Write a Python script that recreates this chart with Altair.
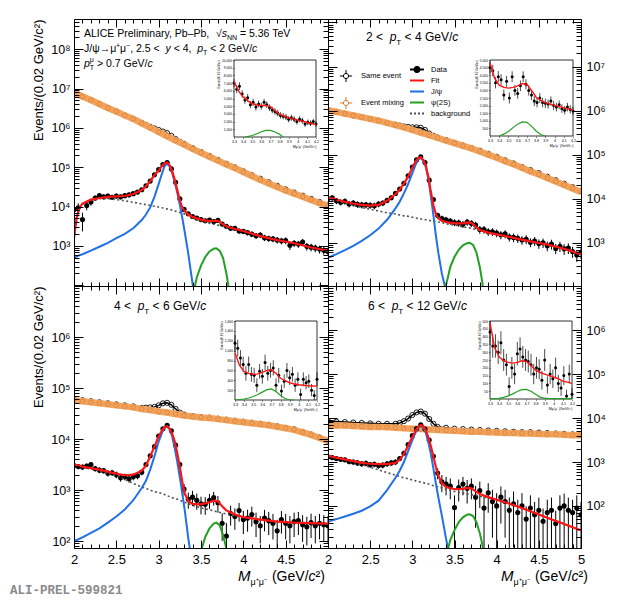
import altair as alt
import pandas as pd

FONT = "Liberation Sans"
MONO = "Liberation Mono"
RED = "#ff1414"
BLUE = "#2170e8"
GREEN = "#22a022"
ORANGE = "#f1a35c"
ORANGE_D = "#d9772a"
DOTC = "#505050"

# ---------------- x grids (bin centres / curve sampling points) ----------------
MIX_X = [round(2.0 + 0.1 * i, 2) for i in range(31)]
SE_X = [2.0, 2.1, 2.2, 2.3, 2.4, 2.5, 2.6, 2.7, 2.8,
        2.85, 2.9, 2.95, 3.0, 3.05, 3.1, 3.15, 3.2, 3.25, 3.3,
        3.4, 3.5, 3.6, 3.7, 3.8, 3.9, 4.0, 4.1, 4.2, 4.3, 4.4, 4.5, 4.6, 4.7, 4.8, 4.9, 5.0]
DATA_X = [round(2.0 + 0.05 * i, 2) for i in range(61)]
FX = [2.0, 2.03, 2.06, 2.1, 2.2, 2.3, 2.4, 2.5, 2.6, 2.7,
      2.8, 2.85, 2.9, 2.95, 3.0, 3.04, 3.07, 3.1, 3.13, 3.16,
      3.19, 3.22, 3.25, 3.28, 3.31, 3.35, 3.4, 3.5, 3.6, 3.65,
      3.7, 3.75, 3.8, 3.9, 4.0, 4.2, 4.4, 4.6, 4.8, 5.0]
PX = [3.38, 3.42, 3.45, 3.5, 3.55, 3.6, 3.65, 3.68, 3.72, 3.76, 3.8, 3.83, 3.87]
IN_X = [round(3.30 + 0.03 * i, 2) for i in range(31)]
IC_X = [round(3.30 + 0.05 * i, 2) for i in range(19)]

# ---------------- main panels: values read as log10(counts) ----------------
TL_MIX = [6.90, 6.80, 6.71, 6.61, 6.51, 6.42, 6.32, 6.23, 6.12, 6.01,
          5.90, 5.79, 5.68, 5.58, 5.47, 5.37, 5.27, 5.17, 5.07, 4.98,
          4.88, 4.78, 4.68, 4.59, 4.50, 4.41, 4.33, 4.25, 4.17, 4.09, 4.02]
TR_MIX = [6.01, 5.97, 5.93, 5.89, 5.85, 5.81, 5.77, 5.72, 5.67, 5.62,
          5.56, 5.50, 5.44, 5.38, 5.32, 5.26, 5.20, 5.14, 5.07, 5.00,
          4.93, 4.85, 4.78, 4.70, 4.62, 4.55, 4.47, 4.39, 4.31, 4.23, 4.15]
BL_MIX = [4.76, 4.74, 4.72, 4.70, 4.68, 4.66, 4.64, 4.62, 4.59, 4.57,
          4.54, 4.52, 4.49, 4.46, 4.44, 4.42, 4.41, 4.39, 4.37, 4.35,
          4.33, 4.31, 4.29, 4.27, 4.24, 4.21, 4.18, 4.13, 4.08, 4.02, 3.96]
BR_MIX = [3.84, 3.83, 3.83, 3.82, 3.81, 3.80, 3.80, 3.79, 3.78, 3.77,
          3.76, 3.75, 3.74, 3.73, 3.72, 3.71, 3.70, 3.69, 3.69, 3.68,
          3.67, 3.66, 3.66, 3.65, 3.65, 3.64, 3.63, 3.63, 3.62, 3.61, 3.61]

TL_SE = [6.90, 6.80, 6.71, 6.61, 6.51, 6.42, 6.32, 6.23, 6.13,
         6.08, 6.03, 5.99, 5.95, 5.91, 5.87, 5.80, 5.72, 5.65, 5.60,
         5.49, 5.39, 5.29, 5.19, 5.09, 5.00, 4.90, 4.80, 4.71, 4.62, 4.53, 4.44, 4.36, 4.28, 4.20, 4.12, 4.05]
TR_SE = [6.01, 5.97, 5.93, 5.89, 5.85, 5.81, 5.77, 5.72, 5.68,
         5.66, 5.64, 5.63, 5.62, 5.62, 5.61, 5.56, 5.48, 5.43, 5.39,
         5.33, 5.27, 5.21, 5.15, 5.09, 5.02, 4.95, 4.87, 4.80, 4.72, 4.65, 4.58, 4.50, 4.42, 4.34, 4.26, 4.18]
BL_SE = [4.78, 4.76, 4.74, 4.72, 4.70, 4.68, 4.66, 4.64, 4.61,
         4.615, 4.62, 4.63, 4.66, 4.70, 4.71, 4.67, 4.59, 4.52, 4.48,
         4.45, 4.43, 4.42, 4.40, 4.38, 4.36, 4.34, 4.32, 4.30, 4.28, 4.25, 4.22, 4.19, 4.14, 4.09, 4.03, 3.97]
BR_SE = [3.93, 3.92, 3.91, 3.90, 3.89, 3.88, 3.87, 3.87, 3.87,
         3.89, 3.93, 3.99, 4.07, 4.13, 4.15, 4.10, 3.98, 3.87, 3.80,
         3.78, 3.76, 3.75, 3.74, 3.73, 3.72, 3.71, 3.70, 3.69, 3.68, 3.68, 3.67, 3.66, 3.65, 3.64, 3.63, 3.62]

TL_DATA = [3.93, 3.97, 3.67, 4.03, 4.12, 4.22, 4.28, 4.25, 4.27, 4.24,
           4.27, 4.25, 4.28, 4.30, 4.33, 4.37, 4.43, 4.53, 4.65, 4.81,
           4.94, 5.07, 5.12, 4.96, 4.62, 4.20, 3.93, 3.82, 3.75, 3.71,
           3.67, 3.64, 3.66, 3.62, 3.65, 3.56, 3.50, 3.45, 3.45, 3.38,
           3.37, 3.34, 3.30, 3.26, 3.28, 3.21, 3.19, 3.18, 3.15, 3.13,
           3.14, 3.02, 3.07, 3.05, 3.10, 2.99, 2.97, 2.95, 2.92, 2.89,
           2.86]
TR_DATA = [4.00, 4.02, 3.95, 3.92, 3.94, 3.88, 3.90, 3.87, 3.86, 3.86,
           3.85, 3.84, 3.88, 3.90, 3.96, 4.02, 4.12, 4.22, 4.35, 4.52,
           4.72, 4.88, 4.95, 4.82, 4.42, 3.98, 3.62, 3.55, 3.52, 3.49,
           3.46, 3.45, 3.42, 3.47, 3.44, 3.40, 3.30, 3.30, 3.25, 3.25,
           3.22, 3.18, 3.20, 3.13, 3.12, 3.10, 3.06, 3.08, 3.01, 3.04,
           2.98, 3.00, 2.93, 2.97, 2.87, 2.92, 2.86, 2.88, 2.80, 2.72,
           2.78]
BL_DATA = [3.48, 3.46, 3.45, 3.47, 3.50, 3.42, 3.39, 3.38, 3.33, 3.34,
           3.30, 3.24, 3.26, 3.22, 3.26, 3.28, 3.35, 3.50, 3.67, 3.85,
           4.06, 4.20, 4.27, 4.16, 3.88, 3.50, 3.02, 2.82, 2.86, 2.80,
           2.73, 2.72, 2.80, 2.85, 2.75, 2.35, 2.10, 2.54, 2.48, 2.60,
           2.42, 2.45, 2.52, 2.38, 2.30, 2.45, 2.40, 2.35, 2.20, 2.42,
           2.35, 2.30, 2.38, 2.40, 2.32, 2.28, 2.36, 2.30, 2.35, 2.32,
           2.30]
BR_DATA = [3.12, 3.10, 3.08, 3.06, 3.05, 3.01, 3.00, 2.98, 2.96, 2.97,
           2.94, 2.95, 2.92, 2.93, 2.96, 2.98, 3.00, 3.08, 3.20, 3.40,
           3.60, 3.76, 3.85, 3.75, 3.50, 3.13, 2.75, 2.55, 2.50, 2.45,
           1.96, 2.42, 2.50, 2.40, 2.45, 2.20, 2.35, 1.95, 2.30, 2.10,
           2.00, 2.20, 2.10, 1.90, 2.05, 1.85, 2.00, 1.70, 1.95, 1.80,
           1.90, 1.65, 1.85, 1.90, 1.60, 1.95, 2.00, 1.90, 1.85, 1.95,
           1.80]

# relative uncertainties of the data points
TL_ERR = [0.35, 0.30, 0.50, 0.25, 0.20, 0.16, 0.15, 0.15, 0.15, 0.15,
          0.15, 0.15, 0.14, 0.14, 0.13, 0.12, 0.10, 0.08, 0.07, 0.05,
          0.04, 0.03, 0.03, 0.04, 0.05, 0.08, 0.10, 0.12, 0.12, 0.13,
          0.13, 0.13, 0.13, 0.13, 0.13, 0.14, 0.14, 0.15, 0.15, 0.15,
          0.15, 0.16, 0.16, 0.17, 0.17, 0.18, 0.18, 0.18, 0.19, 0.19,
          0.20, 0.25, 0.20, 0.20, 0.20, 0.22, 0.22, 0.22, 0.23, 0.23,
          0.24]
TR_ERR = [0.15, 0.15, 0.16, 0.16, 0.16, 0.17, 0.17, 0.17, 0.17, 0.17,
          0.17, 0.17, 0.16, 0.15, 0.14, 0.12, 0.10, 0.08, 0.06, 0.05,
          0.04, 0.03, 0.03, 0.04, 0.05, 0.08, 0.14, 0.16, 0.17, 0.17,
          0.18, 0.18, 0.18, 0.18, 0.18, 0.19, 0.20, 0.20, 0.20, 0.20,
          0.20, 0.21, 0.21, 0.21, 0.22, 0.22, 0.22, 0.23, 0.23, 0.23,
          0.24, 0.24, 0.25, 0.25, 0.26, 0.26, 0.27, 0.27, 0.28, 0.30,
          0.29]
BL_ERR = [0.12, 0.12, 0.12, 0.12, 0.12, 0.13, 0.13, 0.13, 0.14, 0.14,
          0.15, 0.16, 0.15, 0.16, 0.15, 0.15, 0.13, 0.11, 0.08, 0.06,
          0.04, 0.04, 0.03, 0.04, 0.06, 0.10, 0.25, 0.35, 0.33, 0.35,
          0.38, 0.38, 0.33, 0.30, 0.36, 0.55, 0.80, 0.42, 0.45, 0.40,
          0.48, 0.46, 0.42, 0.50, 0.55, 0.45, 0.48, 0.52, 0.65, 0.47,
          0.52, 0.55, 0.50, 0.48, 0.54, 0.57, 0.50, 0.55, 0.52, 0.54,
          0.55]
BR_ERR = [0.12, 0.12, 0.13, 0.13, 0.13, 0.14, 0.14, 0.15, 0.15, 0.15,
          0.15, 0.15, 0.16, 0.16, 0.15, 0.15, 0.14, 0.12, 0.10, 0.07,
          0.05, 0.04, 0.04, 0.04, 0.06, 0.12, 0.28, 0.42, 0.45, 0.50,
          0.90, 0.52, 0.45, 0.55, 0.50, 0.80, 0.60, 0.95, 0.65, 0.85,
          0.95, 0.75, 0.85, 0.95, 0.90, 0.95, 0.95, 0.95, 0.95, 0.95,
          0.95, 0.95, 0.95, 0.95, 0.95, 0.95, 0.90, 0.95, 0.95, 0.95,
          0.95]

TL_FIT = [3.20, 3.70, 3.95, 4.08, 4.18, 4.22, 4.25, 4.26, 4.27, 4.32,
          4.42, 4.52, 4.65, 4.80, 4.92, 5.04, 5.10, 5.12, 5.05, 4.90,
          4.68, 4.42, 4.15, 3.97, 3.88, 3.80, 3.74, 3.67, 3.63, 3.64,
          3.64, 3.57, 3.50, 3.43, 3.38, 3.25, 3.15, 3.07, 2.96, 2.88]
TR_FIT = [4.02, 4.01, 4.00, 3.98, 3.93, 3.89, 3.86, 3.84, 3.86, 3.95,
          4.10, 4.20, 4.34, 4.50, 4.70, 4.85, 4.92, 4.94, 4.88, 4.75,
          4.50, 4.15, 3.85, 3.64, 3.55, 3.50, 3.47, 3.44, 3.44, 3.46,
          3.45, 3.36, 3.29, 3.23, 3.19, 3.11, 3.03, 2.96, 2.86, 2.74]
BL_FIT = [3.50, 3.49, 3.48, 3.46, 3.43, 3.40, 3.36, 3.32, 3.29, 3.30,
          3.38, 3.48, 3.66, 3.85, 4.05, 4.17, 4.23, 4.25, 4.20, 4.10,
          3.95, 3.72, 3.45, 3.15, 2.93, 2.78, 2.73, 2.72, 2.76, 2.79,
          2.78, 2.68, 2.60, 2.52, 2.47, 2.42, 2.38, 2.36, 2.35, 2.34]
BR_FIT = [3.14, 3.13, 3.12, 3.10, 3.06, 3.02, 2.98, 2.96, 2.95, 2.95,
          2.98, 3.05, 3.18, 3.37, 3.57, 3.72, 3.80, 3.84, 3.82, 3.72,
          3.56, 3.36, 3.12, 2.88, 2.68, 2.52, 2.43, 2.38, 2.39, 2.41,
          2.40, 2.33, 2.27, 2.20, 2.14, 2.02, 1.88, 1.73, 1.59, 1.44]

TL_JPSI = [2.70, 2.73, 2.76, 2.79, 2.88, 2.98, 3.08, 3.20, 3.31, 3.45,
           3.66, 3.80, 3.98, 4.25, 4.58, 4.85, 5.03, 5.10, 5.02, 4.85,
           4.62, 4.35, 4.05, 3.70, 3.33, 2.80, 2.05, 0.8]
TR_JPSI = [2.66, 2.68, 2.71, 2.74, 2.83, 2.93, 3.04, 3.17, 3.32, 3.52,
           3.78, 3.93, 4.12, 4.33, 4.58, 4.78, 4.89, 4.93, 4.86, 4.72,
           4.45, 4.05, 3.62, 3.15, 2.75, 2.30, 1.90, 1.0]
BL_JPSI = [2.00, 2.02, 2.04, 2.07, 2.16, 2.25, 2.36, 2.48, 2.62, 2.80,
           3.04, 3.18, 3.40, 3.66, 3.95, 4.13, 4.22, 4.25, 4.19, 4.05,
           3.82, 3.55, 3.25, 2.92, 2.58, 2.05, 1.5, 0.5]
BR_JPSI = [1.64, 1.66, 1.68, 1.70, 1.76, 1.82, 1.89, 1.99, 2.12, 2.36,
           2.64, 2.80, 3.00, 3.25, 3.50, 3.68, 3.78, 3.83, 3.80, 3.66,
           3.45, 3.18, 2.85, 2.50, 2.18, 1.78, 1.25, 0.3]

TL_BKG = [3.18, 3.68, 3.93, 4.06, 4.16, 4.20, 4.20, 4.18, 4.15, 4.11,
          4.07, 4.05, 4.03, 4.01, 3.99, 3.97, 3.96, 3.94, 3.93, 3.91,
          3.89, 3.87, 3.85, 3.83, 3.81, 3.78, 3.72, 3.64, 3.58, 3.55,
          3.53, 3.50, 3.47, 3.42, 3.38, 3.25, 3.15, 3.07, 2.96, 2.88]
TR_BKG = [4.00, 3.99, 3.98, 3.96, 3.90, 3.85, 3.80, 3.76, 3.72, 3.68,
          3.65, 3.63, 3.61, 3.60, 3.58, 3.56, 3.55, 3.54, 3.53, 3.52,
          3.51, 3.50, 3.49, 3.48, 3.47, 3.46, 3.43, 3.40, 3.36, 3.34,
          3.33, 3.30, 3.28, 3.23, 3.19, 3.11, 3.03, 2.96, 2.86, 2.74]
BL_BKG = [3.49, 3.48, 3.47, 3.45, 3.41, 3.37, 3.33, 3.28, 3.21, 3.13,
          3.06, 3.03, 3.00, 2.97, 2.95, 2.93, 2.91, 2.89, 2.87, 2.85,
          2.83, 2.82, 2.80, 2.78, 2.76, 2.73, 2.70, 2.65, 2.61, 2.59,
          2.57, 2.55, 2.53, 2.50, 2.47, 2.42, 2.38, 2.36, 2.35, 2.34]
BR_BKG = [3.14, 3.12, 3.11, 3.09, 3.05, 3.00, 2.94, 2.88, 2.82, 2.76,
          2.70, 2.67, 2.64, 2.62, 2.59, 2.57, 2.56, 2.54, 2.53, 2.51,
          2.50, 2.48, 2.46, 2.45, 2.43, 2.41, 2.38, 2.33, 2.29, 2.27,
          2.26, 2.24, 2.22, 2.18, 2.14, 2.02, 1.88, 1.73, 1.59, 1.44]

TL_PSI = [1.3, 1.9, 2.2, 2.5, 2.72, 2.86, 2.93, 2.94, 2.88, 2.70, 2.30, 1.90, 1.2]
TR_PSI = [1.9, 2.2, 2.45, 2.68, 2.84, 2.94, 2.99, 3.00, 2.95, 2.78, 2.45, 2.10, 1.5]
BL_PSI = [0.9, 1.2, 1.45, 1.8, 2.08, 2.25, 2.34, 2.36, 2.31, 2.12, 1.85, 1.55, 1.1]
BR_PSI = [0.7, 1.0, 1.22, 1.45, 1.63, 1.74, 1.80, 1.81, 1.77, 1.63, 1.38, 1.12, 0.7]

# ---------------- insets (linear counts) ----------------
TL_IN_DATA = [7000, 6200, 6600, 5600, 4800, 5100, 4200, 4500, 3900, 4300,
              4000, 4500, 4200, 3800, 3500, 3300, 3100, 2800, 2700, 2600,
              2300, 2500, 2300, 2000, 2300, 2100, 1700, 1900, 1800, 2000, 1700]
TL_IN_ERR = [500, 500, 500, 480, 480, 470, 470, 460, 460, 450,
             450, 450, 440, 440, 430, 430, 420, 420, 410, 410,
             400, 400, 400, 390, 390, 380, 380, 370, 370, 360, 360]
TL_IN_FIT = [7200, 6000, 5200, 4700, 4350, 4150, 4100, 4100, 3950, 3400,
             2950, 2700, 2500, 2350, 2200, 2050, 1900, 1750, 1600]
TL_IN_PSI_X = [3.42, 3.45, 3.5, 3.55, 3.6, 3.65, 3.7, 3.75, 3.8, 3.84]
TL_IN_PSI = [0, 60, 200, 420, 680, 860, 860, 650, 350, 0]

TR_IN_DATA = [4500, 4300, 3500, 3900, 3700, 2700, 3600, 2500, 3900, 3000,
              2800, 3300, 3900, 3400, 3000, 2700, 2300, 2200, 2500, 2200,
              2150, 2100, 2300, 2000, 1900, 2050, 1800, 1700, 1900, 1750, 1650]
TR_IN_ERR = [380, 380, 370, 370, 370, 360, 360, 360, 360, 350,
             350, 350, 350, 340, 340, 330, 330, 320, 320, 310,
             310, 300, 300, 300, 290, 290, 280, 280, 280, 270, 270]
TR_IN_FIT = [4800, 3800, 3350, 3200, 3150, 3200, 3300, 3450, 3400, 3000,
             2550, 2350, 2200, 2100, 2000, 1950, 1850, 1780, 1700]
TR_IN_PSI_X = [3.40, 3.45, 3.5, 3.55, 3.6, 3.65, 3.7, 3.75, 3.8, 3.85, 3.9]
TR_IN_PSI = [0, 120, 300, 550, 780, 930, 900, 650, 330, 100, 0]

BL_IN_DATA = [1150, 1050, 850, 720, 540, 720, 520, 500, 300, 580,
              480, 760, 540, 600, 650, 300, 500, 180, 380, 600,
              450, 520, 300, 420, 110, 420, 350, 380, 200, 90, 420]
BL_IN_ERR = [170, 170, 160, 160, 150, 160, 150, 150, 140, 150,
             150, 160, 150, 150, 155, 140, 150, 130, 140, 150,
             145, 150, 135, 140, 120, 140, 135, 140, 125, 110, 140]
BL_IN_FIT = [950, 700, 580, 540, 520, 530, 560, 600, 610, 540,
             440, 390, 350, 325, 310, 300, 290, 285, 280]
BL_IN_PSI_X = [3.30, 3.35, 3.40, 3.45, 3.50, 3.55, 3.60, 3.65, 3.70, 3.75, 3.80, 3.85, 3.90, 3.95]
BL_IN_PSI = [5, 10, 20, 40, 70, 110, 160, 210, 225, 170, 90, 30, 5, 0]

BR_IN_DATA = [430, 340, 340, 300, 360, 250, 220, 80, 200, 160,
              290, 320, 270, 250, 240, 220, 160, 200, 190, 120,
              250, 90, 160, 130, 200, 100, 70, 150, 20, 160, 30]
BR_IN_ERR = [80, 75, 75, 75, 75, 70, 70, 60, 70, 65,
             75, 75, 70, 70, 70, 70, 65, 70, 65, 60,
             70, 55, 65, 60, 65, 55, 50, 60, 40, 60, 40]
BR_IN_FIT = [490, 330, 270, 245, 235, 230, 235, 245, 240, 215,
             185, 170, 160, 150, 140, 130, 115, 108, 100]
BR_IN_PSI = [2, 3, 4, 10, 20, 33, 48, 60, 62, 50, 30, 12, 5, 3, 3, 3, 3, 3, 3]

LEG1 = ["Same event", "Event mixing"]
LEG2 = ["Data", "Fit", "J/ψ", "ψ(2S)", "background"]
CROSS = ("M-1,0L-0.42,0M0.42,0L1,0M0,-1L0,-0.42M0,0.42L0,1"
         "M0.42,0A0.42,0.42,0,1,1,-0.42,0A0.42,0.42,0,1,1,0.42,0Z")
DATAP = "M-1,0L1,0M0.36,0A0.36,0.36,0,1,1,-0.36,0A0.36,0.36,0,1,1,0.36,0Z"

SUP = ("'10' + ['\u2070','\u00b9','\u00b2','\u00b3','\u2074','\u2075','\u2076','\u2077','\u2078','\u2079']"
       "[round(log(datum.value)/LN10)]")

# ---------------- text helpers (Helvetica metrics) ----------------
W_HEL = dict(zip("ABCDEFGHIJKLMNOPQRSTUVWXYZ",
                 [667, 667, 722, 722, 667, 611, 778, 722, 278, 500, 667, 556, 833,
                  722, 778, 667, 778, 722, 667, 611, 722, 667, 944, 667, 667, 611]))
W_HEL.update(zip("abcdefghijklmnopqrstuvwxyz",
                 [556, 556, 500, 556, 556, 278, 556, 556, 222, 222, 500, 222, 833,
                  556, 556, 556, 556, 333, 500, 278, 556, 500, 722, 500, 500, 500]))
W_HEL.update({c: 556 for c in "0123456789"})
W_HEL.update({" ": 278, ",": 278, ".": 278, "/": 278, "-": 333, "\u2212": 584, "\u2013": 556,
              "(": 333, ")": 333, "<": 584, ">": 584, "=": 584, "+": 584, "\u221a": 549,
              "\u2192": 1000, "\u03c8": 686, "\u03bc": 576, "\u207a": 400, "\u207b": 400, "\u00b2": 333})


def tw(s, size):
    return sum(W_HEL.get(ch, 556) for ch in s) * size / 1000.0


def text_rows(lines):
    rows = []
    for x0, y0, pieces in lines:
        x = x0
        for p in pieces:
            t, size, style = p[0], p[1], p[2]
            dy = p[3] if len(p) > 3 else 0
            adv = p[4] if len(p) > 4 else True
            lead = len(t) - len(t.lstrip(" "))
            xs = x + tw(" " * lead, size)
            rows.append(dict(t=t.strip(" "), px=xs, py=y0 + dy, fs=size, st=style))
            if adv:
                x += tw(t, size)
    return pd.DataFrame(rows)


def pt_line(x0, y0, lo, hi):
    return (x0, y0, [(f"{lo} <  ", 12, "n"), ("p", 12, "i"), ("T", 8, "n", 4),
                     (f" < {hi} GeV/", 12, "n"), ("c", 12, "i")])


def xtitle(x0, y0):
    return (x0, y0, [("M", 15, "i"), ("\u03bc\u207a\u03bc\u207b", 9, "n", 4), (" (GeV/", 14, "n"),
                     ("c", 14, "i"), ("\u00b2)", 14, "n")])


TL_LINES = [
    (10, 18, [("ALICE Preliminary, Pb\u2013Pb,  ", 10.5, "n"), ("\u221a", 10.5, "n"), ("s", 10.5, "i"),
              ("NN", 7, "n", 3), (" = 5.36 TeV", 10.5, "n")]),
    (10, 33, [("J/\u03c8\u2192\u03bc", 10.5, "n"), ("+", 7, "n", -4), ("\u03bc", 10.5, "n"), ("\u2212", 7, "n", -4),
              (", 2.5 <  ", 10.5, "n"), ("y", 10.5, "i"), (" < 4,  ", 10.5, "n"), ("p", 10.5, "i"),
              ("T", 7, "n", 3), (" < 2 GeV/", 10.5, "n"), ("c", 10.5, "i")]),
    (10, 48, [("p", 10.5, "i"), ("\u03bc", 7, "n", -5, False), ("T", 7, "n", 3),
              (" > 0.7 GeV/", 10.5, "n"), ("c", 10.5, "i")]),
]

PANELS = [
    dict(W=254, H=267, ydom=[96, 5.9e8], ylab=[1e3, 1e4, 1e5, 1e6, 1e7, 1e8], left=True, right=False, xlab=None,
         mix=TL_MIX, se=TL_SE, data=TL_DATA, err=TL_ERR, fit=TL_FIT, jpsi=TL_JPSI, bkg=TL_BKG, psi=TL_PSI,
         inset=dict(x=[160, 242], y=[41, 118], ymax=10000, yt=list(range(1000, 10001, 1000)),
                    data=TL_IN_DATA, err=TL_IN_ERR, fit=TL_IN_FIT, psix=TL_IN_PSI_X, psi=TL_IN_PSI),
         lines=TL_LINES, legend=False, marker=True),
    dict(W=253, H=267, ydom=[104, 1.2e8], ylab=[1e3, 1e4, 1e5, 1e6, 1e7], left=False, right=True, xlab=None,
         mix=TR_MIX, se=TR_SE, data=TR_DATA, err=TR_ERR, fit=TR_FIT, jpsi=TR_JPSI, bkg=TR_BKG, psi=TR_PSI,
         inset=dict(x=[162, 245], y=[41, 117], ymax=5000, yt=list(range(500, 5001, 500)),
                    data=TR_IN_DATA, err=TR_IN_ERR, fit=TR_IN_FIT, psix=TR_IN_PSI_X, psi=TR_IN_PSI),
         lines=[pt_line(38, 22, 2, 4)], legend=True, marker=False),
    dict(W=254, H=262, ydom=[73, 1e7], ylab=[1e2, 1e3, 1e4, 1e5, 1e6], left=True, right=False,
         xlab=[2, 2.5, 3, 3.5, 4, 4.5],
         mix=BL_MIX, se=BL_SE, data=BL_DATA, err=BL_ERR, fit=BL_FIT, jpsi=BL_JPSI, bkg=BL_BKG, psi=BL_PSI,
         inset=dict(x=[161, 243], y=[35, 114], ymax=1600, yt=list(range(200, 1601, 200)),
                    data=BL_IN_DATA, err=BL_IN_ERR, fit=BL_IN_FIT, psix=BL_IN_PSI_X, psi=BL_IN_PSI),
         lines=[pt_line(40, 24, 4, 6), xtitle(164, 295)], ali=True, legend=False, marker=False),
    dict(W=253, H=262, ydom=[11, 1.02e7], ylab=[1e2, 1e3, 1e4, 1e5, 1e6], left=False, right=True,
         xlab=[2, 2.5, 3, 3.5, 4, 4.5, 5],
         mix=BR_MIX, se=BR_SE, data=BR_DATA, err=BR_ERR, fit=BR_FIT, jpsi=BR_JPSI, bkg=BR_BKG, psi=BR_PSI,
         inset=dict(x=[162, 244], y=[35, 113], ymax=500, yt=list(range(50, 501, 50)),
                    data=BR_IN_DATA, err=BR_IN_ERR, fit=BR_IN_FIT, psix=IC_X, psi=BR_IN_PSI),
         lines=[pt_line(40, 24, 6, 12), xtitle(173, 295)], legend=False, marker=False),
]


def make_panel(P):
    W, H, ydom = P["W"], P["H"], P["ydom"]

    def X(f, axis=None):
        return alt.X(f, type="quantitative", scale=alt.Scale(domain=[2.0, 5.0], nice=False, zero=False), axis=axis)

    def Y(f, axis=None):
        return alt.Y(f, type="quantitative", scale=alt.Scale(type="log", domain=ydom, nice=False), axis=axis)

    ymaj = [10.0 ** k for k in range(0, 10) if ydom[0] <= 10.0 ** k <= ydom[1]]
    ymin = [j * 10.0 ** k for k in range(0, 9) for j in range(2, 10) if ydom[0] <= j * 10.0 ** k <= ydom[1]]
    xmaj = [2.0, 2.5, 3.0, 3.5, 4.0, 4.5, 5.0]
    xmin = [round(2.0 + 0.1 * i, 1) for i in range(31) if i % 5 != 0]

    def tax(orient, offset, values, size, domain=False):
        return alt.Axis(orient=orient, offset=offset, values=values, tickSize=size, labels=False,
                        domain=domain, domainColor="black", domainWidth=1, ticks=True, tickColor="black",
                        tickWidth=1, grid=False, title=None, zindex=2)

    if P["left"]:
        y_lab = alt.Axis(orient="left", values=P["ylab"], labelExpr=SUP, ticks=False, domain=True,
                         domainColor="black", domainWidth=1, grid=False, labelFont=FONT, labelFontSize=12.5,
                         labelColor="black", labelPadding=4, labelFlush=False, labelOverlap=False,
                         title="Events/(0.02 GeV/c\u00b2)", titleFont=FONT, titleFontSize=13,
                         titleFontWeight="normal", titleColor="black", titleAnchor="end", titlePadding=5, zindex=2)
    else:
        y_lab = alt.Axis(orient="left", labels=False, ticks=False, domain=True, domainColor="black",
                         domainWidth=1, grid=False, title=None, zindex=2)
    if P["xlab"]:
        x_lab = alt.Axis(orient="bottom", values=P["xlab"], format="~g", ticks=False, domain=True,
                         domainColor="black", domainWidth=1, grid=False, labelFont=FONT, labelFontSize=13,
                         labelColor="black", labelPadding=5, labelFlush=False, labelOverlap=False,
                         title=None, zindex=2)
    else:
        x_lab = alt.Axis(orient="bottom", labels=False, ticks=False, domain=True, domainColor="black",
                         domainWidth=1, grid=False, title=None, zindex=2)
    y_rlab = None
    if P["right"]:
        y_rlab = alt.Axis(orient="right", values=P["ylab"], labelExpr=SUP, ticks=False, domain=False,
                          grid=False, labelFont=FONT, labelFontSize=12.5, labelColor="black", labelPadding=5,
                          labelFlush=False, labelOverlap=False, title=None, zindex=2)

    se = pd.DataFrame({"m": SE_X, "v": [10 ** a for a in P["se"]]})
    mix = pd.DataFrame({"m": MIX_X, "v": [10 ** a for a in P["mix"]]})
    vals = [10 ** a for a in P["data"]]
    dat = pd.DataFrame({"m": DATA_X, "v": vals,
                        "lo": [max(v * (1 - e), ydom[0] * 0.3) for v, e in zip(vals, P["err"])],
                        "hi": [v * (1 + e) for v, e in zip(vals, P["err"])]})
    fit = pd.DataFrame({"m": FX, "v": [10 ** a for a in P["fit"]]})
    bkg = pd.DataFrame({"m": FX, "v": [10 ** a for a in P["bkg"]]})
    jp = pd.DataFrame({"m": FX[:len(P["jpsi"])], "v": [10 ** a for a in P["jpsi"]]})
    ps = pd.DataFrame({"m": PX, "v": [10 ** a for a in P["psi"]]})

    layers = [
        alt.Chart(se).mark_line(color="black", strokeWidth=1.5, clip=True).encode(
            x=X("m", tax("top", -H, xmin, 4)), y=Y("v", tax("right", -W, ymin, 5))),
        alt.Chart(se).mark_point(filled=False, color="black", size=26, strokeWidth=0.9, opacity=1, clip=True).encode(
            x=X("m", tax("bottom", -H, xmaj, 8, True)), y=Y("v", tax("left", -W, ymaj, 9, True))),
        alt.Chart(mix).mark_line(color=ORANGE, strokeWidth=6.5, clip=True).encode(
            x=X("m", x_lab), y=Y("v", y_lab)),
        alt.Chart(mix).mark_point(filled=False, color=ORANGE_D, size=20, strokeWidth=0.6, opacity=1,
                                  clip=True).encode(
            x=X("m", tax("top", -H, xmaj, 8)), y=Y("v", tax("right", -W, ymaj, 9))),
        alt.Chart(dat).mark_rule(color="black", strokeWidth=1, clip=True).encode(
            x=X("m", tax("bottom", -H, xmin, 4)), y=Y("lo", tax("left", -W, ymin, 5)), y2="hi"),
        alt.Chart(dat).mark_point(filled=True, color="black", size=26, opacity=1, clip=True).encode(
            x=X("m"), y=Y("v", y_rlab)),
        alt.Chart(bkg).mark_line(color=DOTC, strokeWidth=1.6, strokeDash=[2, 2.5], clip=True).encode(
            x=X("m"), y=Y("v")),
        alt.Chart(jp).mark_line(color=BLUE, strokeWidth=2, clip=True).encode(x=X("m"), y=Y("v")),
        alt.Chart(ps).mark_line(color=GREEN, strokeWidth=2, clip=True).encode(x=X("m"), y=Y("v")),
        alt.Chart(fit).mark_line(color=RED, strokeWidth=2.2, clip=True).encode(x=X("m"), y=Y("v")),
    ]

    # ---------- inset ----------
    I = P["inset"]
    ix0, ix1 = I["x"]
    iy0, iy1 = I["y"]
    ymax = I["ymax"]

    def IX(f, axis=None):
        return alt.X(f, type="quantitative",
                     scale=alt.Scale(domain=[3.3, 4.2], range=[ix0, ix1], nice=False, zero=False), axis=axis)

    def IY(f, axis=None):
        return alt.Y(f, type="quantitative",
                     scale=alt.Scale(domain=[0, ymax], range=[iy1, iy0], nice=False, zero=False), axis=axis)

    ix_axis = alt.Axis(orient="bottom", offset=iy1 - H, values=[3.3, 3.4, 3.5, 3.6, 3.7, 3.8, 3.9, 4.0, 4.1, 4.2],
                       format="~g", labelFont=FONT, labelFontSize=3.6, labelColor="black", labelPadding=1,
                       tickSize=1.5, tickColor="black", tickWidth=0.5, domain=False, grid=False,
                       labelFlush=False, labelOverlap=False, title="M\u03bc\u207a\u03bc\u207b (GeV/c\u00b2)",
                       titleFont=FONT, titleFontSize=3.6, titleFontWeight="normal", titleColor="black",
                       titleAnchor="end", titlePadding=1, zindex=2)
    iy_axis = alt.Axis(orient="left", offset=-ix0, values=I["yt"], labelFont=FONT, labelFontSize=3.3,
                       labelColor="black", labelPadding=1, tickSize=1.5, tickColor="black", tickWidth=0.5,
                       domain=False, grid=False, labelOverlap=False, labelFlush=False,
                       title="Events/(0.02 GeV/c\u00b2)", titleFont=FONT, titleFontSize=3,
                       titleFontWeight="normal", titleColor="black", titleAnchor="end", titlePadding=1, zindex=2)

    frame = pd.DataFrame({"a": [3.3], "b": [4.2], "c": [0], "d": [ymax]})
    idat = pd.DataFrame({"m": IN_X, "v": I["data"],
                         "lo": [max(v - e, 0) for v, e in zip(I["data"], I["err"])],
                         "hi": [min(v + e, ymax) for v, e in zip(I["data"], I["err"])]})
    ifit = pd.DataFrame({"m": IC_X, "v": I["fit"]})
    ipsi = pd.DataFrame({"m": I["psix"], "v": I["psi"]})
    layers += [
        alt.Chart(frame).mark_rect(fill="white", stroke="black", strokeWidth=0.8).encode(
            x=IX("a", ix_axis), x2="b", y=IY("c", iy_axis), y2="d"),
        alt.Chart(idat).mark_rule(color="black", strokeWidth=0.7).encode(x=IX("m"), y=IY("lo"), y2="hi"),
        alt.Chart(idat).mark_point(filled=True, color="black", size=9, opacity=1).encode(x=IX("m"), y=IY("v")),
        alt.Chart(ipsi).mark_line(color=GREEN, strokeWidth=1.2).encode(x=IX("m"), y=IY("v")),
        alt.Chart(ifit).mark_line(color=RED, strokeWidth=1.4).encode(x=IX("m"), y=IY("v")),
    ]

    # ---------- texts ----------
    lines = list(P["lines"])
    if P.get("ali"):
        lines.append((-64, 308, [("ALI-PREL-599821", 12.5, "mono")]))
    tdf = text_rows(lines)
    for st in ["n", "i", "mono"]:
        sub = tdf[tdf["st"] == st]
        if len(sub) == 0:
            continue
        if st == "mono":
            mk = alt.Chart(sub).mark_text(align="left", baseline="alphabetic", font=MONO, fontWeight="bold",
                                          color="#8a8a8a")
        else:
            mk = alt.Chart(sub).mark_text(align="left", baseline="alphabetic", font=FONT, color="black",
                                          fontStyle="italic" if st == "i" else "normal")
        layers.append(mk.encode(x=alt.X("px:Q", scale=None, axis=None), y=alt.Y("py:Q", scale=None, axis=None),
                                text="t:N", size=alt.Size("fs:Q", scale=None, legend=None)))

    # ---------- legend ----------
    if P["legend"]:
        leg1 = alt.Legend(orient="none", legendX=11, legendY=50, title=None, symbolSize=150,
                          symbolStrokeWidth=1, labelFont=FONT, labelFontSize=7.5, labelColor="black",
                          rowPadding=9, labelOffset=8, padding=0, symbolOpacity=1)
        layers.append(alt.Chart(pd.DataFrame({"series": LEG1})).mark_point(filled=False, clip=True).encode(
            x=alt.value(-500), y=alt.value(-500),
            stroke=alt.Stroke("series:N", scale=alt.Scale(domain=LEG1, range=["black", ORANGE_D]), legend=leg1),
            shape=alt.Shape("series:N", scale=alt.Scale(domain=LEG1, range=[CROSS, CROSS]), legend=leg1)))
        leg2 = alt.Legend(orient="none", legendX=81, legendY=45, title=None, symbolSize=196,
                          symbolStrokeWidth=2, labelFont=FONT, labelFontSize=7.5, labelColor="black",
                          rowPadding=0, clipHeight=11, labelOffset=6, padding=0, symbolOpacity=1)
        layers.append(alt.Chart(pd.DataFrame({"comp": LEG2})).mark_point(filled=True, clip=True).encode(
            x=alt.value(-500), y=alt.value(-500),
            stroke=alt.Stroke("comp:N", scale=alt.Scale(domain=LEG2, range=["black", RED, BLUE, GREEN, DOTC]),
                              legend=leg2),
            fill=alt.Fill("comp:N", scale=alt.Scale(domain=LEG2, range=["black", "transparent", "transparent",
                                                                        "transparent", "transparent"]),
                          legend=leg2),
            shape=alt.Shape("comp:N", scale=alt.Scale(domain=LEG2, range=[DATAP, "stroke", "stroke", "stroke",
                                                                          "stroke"]), legend=leg2),
            strokeDash=alt.StrokeDash("comp:N", scale=alt.Scale(domain=LEG2, range=[[1, 0], [1, 0], [1, 0],
                                                                                    [1, 0], [2, 2]]),
                                      legend=leg2)))

    if P["marker"]:
        layers.append(alt.Chart(pd.DataFrame({"a": [0]})).mark_rule(color="white", strokeWidth=1).encode(
            x=alt.value(-65), x2=alt.value(-64), y=alt.value(-10), y2=alt.value(-10)))

    return alt.layer(*layers).resolve_scale(
        x="independent", y="independent", stroke="independent", shape="independent",
        fill="independent", strokeDash="independent").properties(width=W, height=H)


panels = [make_panel(P) for P in PANELS]
chart = alt.concat(*panels, columns=2, spacing=0, bounds="flush").resolve_scale(
    stroke="independent", shape="independent", fill="independent", strokeDash="independent"
).properties(padding=0).configure_view(stroke=None)

chart.save("out.html", embed_options={"renderer": "svg", "actions": False})
